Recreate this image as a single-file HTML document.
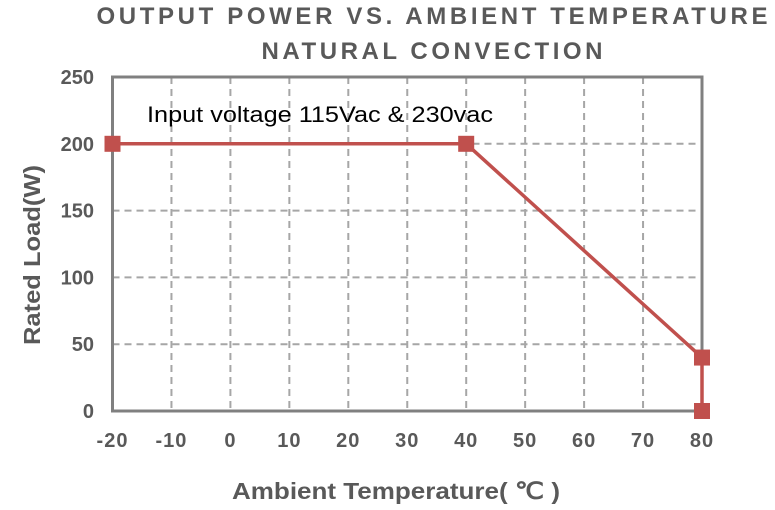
<!DOCTYPE html>
<html><head><meta charset="utf-8"><style>
body{margin:0;background:#fff;width:775px;height:505px;overflow:hidden}
svg text{font-family:"Liberation Sans",sans-serif}
</style></head><body>
<svg id="c" width="775" height="505">
<text x="432" y="24" text-anchor="middle" font-size="24" font-weight="bold" fill="#595959" textLength="671" lengthAdjust="spacing">OUTPUT POWER VS. AMBIENT TEMPERATURE</text>
<text x="432" y="59" text-anchor="middle" font-size="24" font-weight="bold" fill="#595959" textLength="341" lengthAdjust="spacing">NATURAL CONVECTION</text>
<g id="grid"></g><g id="ticks"></g><g id="series"></g>
<text x="147" y="122" font-size="22" fill="#000" textLength="346" lengthAdjust="spacingAndGlyphs">Input voltage 115Vac &amp; 230vac</text>
<text x="396" y="499" text-anchor="middle" font-size="23" font-weight="bold" fill="#595959" textLength="328" lengthAdjust="spacingAndGlyphs">Ambient Temperature( ℃ )</text>
<text transform="translate(40,255) rotate(-90)" text-anchor="middle" font-size="23" font-weight="bold" fill="#595959" textLength="180" lengthAdjust="spacingAndGlyphs">Rated Load(W)</text>
</svg>
<script>
const xTicks=[-20,-10,0,10,20,30,40,50,60,70,80];
const yTicks=[0,50,100,150,200,250];
const temps=[-20,40,80,80];
const loads=[200,200,40,0];
const L=112.5,R=702,T=77,B=411;
const sx=v=>L+(v+20)/100*(R-L), sy=v=>B-v/250*(B-T);
const NS='http://www.w3.org/2000/svg';
function mk(t,a,p){const e=document.createElementNS(NS,t);for(const k in a)e.setAttribute(k,a[k]);p.appendChild(e);return e;}
const g=document.getElementById('grid'),tk=document.getElementById('ticks'),s=document.getElementById('series');
xTicks.forEach(v=>{if(v>-20&&v<80){const l=mk('line',{x1:sx(v),x2:sx(v),y1:T,y2:B,stroke:'#a6a6a6','stroke-width':2,'stroke-dasharray':'7,5'},g);

}
const t=mk('text',{x:sx(v),y:447,'text-anchor':'middle','font-size':20,'font-weight':'bold',fill:'#595959','letter-spacing':1},tk);t.textContent=v;

});
yTicks.forEach(v=>{if(v>0&&v<250){const l=mk('line',{x1:L,x2:R,y1:sy(v),y2:sy(v),stroke:'#a6a6a6','stroke-width':2,'stroke-dasharray':'7,5'},g);

}
const t=mk('text',{x:94,y:sy(v)+7,'text-anchor':'end','font-size':20,'font-weight':'bold',fill:'#595959'},tk);t.textContent=v;

});
const fr=mk('rect',{x:L,y:T,width:R-L,height:B-T,fill:'none',stroke:'#808080','stroke-width':3},g);


const pl=mk('polyline',{points:temps.map((t,i)=>sx(t)+','+sy(loads[i])).join(' '),fill:'none',stroke:'#c0504d','stroke-width':3.5},s);


temps.forEach((t,i)=>{const m=mk('rect',{x:sx(t)-8,y:sy(loads[i])-8,width:16,height:16,fill:'#c0504d'},s);

});
</script>
</body></html>
